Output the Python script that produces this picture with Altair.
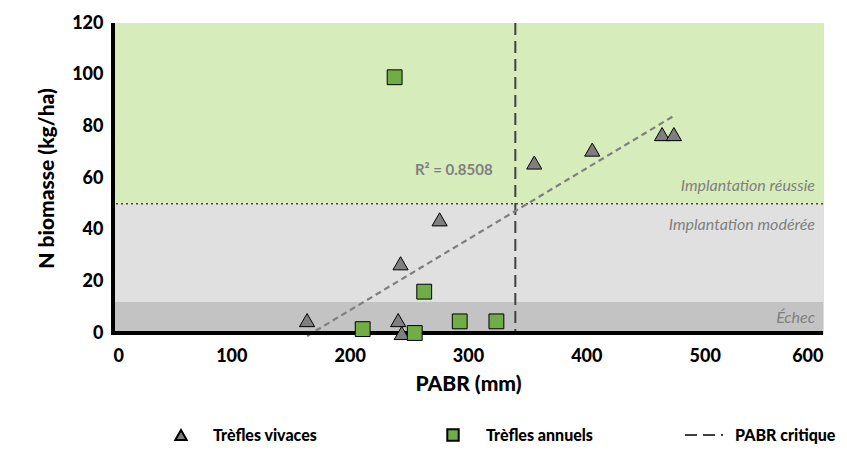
import altair as alt
import pandas as pd
import numpy as np

# Trèfles vivaces
viv_x = [164, 243, 241, 244, 276, 356, 405, 464, 474]
viv_y = [5, 27, 5, 0, 44, 66, 71, 77, 77]
# Trèfles annuels
ann_x = [238, 211, 255, 263, 293, 324]
ann_y = [99, 1.5, 0, 16, 4.5, 4.5]
pabr_critique = 340
bands = [("Échec", 0, 12, "#c3c3c3"), ("Implantation modérée", 12, 50, "#e0e0e0"),
         ("Implantation réussie", 50, 120, "#d6ecbb")]
band_labels = [("Échec", 6), ("Implantation modérée", 42), ("Implantation réussie", 57)]

FONT = "Lato"
W, H = 710, 310

xs = alt.Scale(domain=[0, 600], nice=False)
ys = alt.Scale(domain=[0, 120], nice=False)

band_df = pd.DataFrame(bands, columns=["zone", "y0", "y1", "col"])
bg = alt.Chart(band_df).mark_rect().encode(
    x=alt.value(0), x2=alt.value(W),
    y=alt.Y("y0:Q", scale=ys), y2="y1:Q",
    color=alt.Color("col:N", scale=None),
)
dotted = alt.Chart(pd.DataFrame({"y": [50]})).mark_rule(
    color="#385723", strokeDash=[2, 3], strokeWidth=1.5
).encode(y=alt.Y("y:Q", scale=ys))

lab_df = pd.DataFrame(band_labels, columns=["t", "y"])
labels = alt.Chart(lab_df).mark_text(
    align="right", font=FONT, fontStyle="italic", fontSize=16, color="#7f7f7f"
).encode(x=alt.value(W - 8), y=alt.Y("y:Q", scale=ys), text="t:N")

crit = alt.Chart(pd.DataFrame({"x": [pabr_critique]})).mark_rule(
    color="#404040", strokeDash=[12, 6], strokeWidth=2
).encode(x=alt.X("x:Q", scale=xs))

# linear trendline for perennial clovers
a, b = np.polyfit(viv_x, viv_y, 1)
tx = [min(viv_x), max(viv_x)]
trend_df = pd.DataFrame({"x": tx, "y": [a * v + b for v in tx]})
trend = alt.Chart(trend_df).mark_line(
    color="#7f7f7f", strokeDash=[6, 4], strokeWidth=2.2
).encode(x=alt.X("x:Q", scale=xs), y=alt.Y("y:Q", scale=ys))

r2 = alt.Chart(pd.DataFrame({"x": [288], "y": [63], "t": ["R² = 0.8508"]})).mark_text(
    font=FONT, fontWeight="bold", fontSize=15, color="#7f7f7f"
).encode(x=alt.X("x:Q", scale=xs), y=alt.Y("y:Q", scale=ys), text="t:N")

axis_style = dict(grid=False, ticks=False, domain=False,
                  labelFont=FONT, labelFontSize=18, labelFontWeight=900, labelColor="black",
                  titleFont=FONT, titleFontSize=21, titleFontWeight=900, titleColor="black")

# axis lines on top of the background bands
y_axis_line = alt.Chart(pd.DataFrame({"a": [0]})).mark_rule(
    color="#000000", strokeWidth=4
).encode(x=alt.value(0), y=alt.value(0), y2=alt.value(H))
x_axis_line = alt.Chart(pd.DataFrame({"a": [0]})).mark_rule(
    color="#000000", strokeWidth=4
).encode(x=alt.value(-2), x2=alt.value(W), y=alt.value(H))

viv = alt.Chart(pd.DataFrame({"x": viv_x, "y": viv_y})).mark_point(
    shape="triangle-up", filled=True, fill="#7f7f7f", stroke="black", strokeWidth=1,
    size=230, opacity=1
).encode(
    x=alt.X("x:Q", scale=xs, title="PABR (mm)",
            axis=alt.Axis(values=list(range(0, 601, 100)), labelPadding=14,
                          titlePadding=8, **axis_style)),
    y=alt.Y("y:Q", scale=ys, title="N biomasse (kg/ha)",
            axis=alt.Axis(values=list(range(0, 121, 20)), labelPadding=10,
                          titlePadding=14, **axis_style)),
)
ann = alt.Chart(pd.DataFrame({"x": ann_x, "y": ann_y})).mark_point(
    shape="square", filled=True, fill="#70ad47", stroke="black", strokeWidth=1,
    size=220, opacity=1
).encode(x=alt.X("x:Q", scale=xs), y=alt.Y("y:Q", scale=ys))

# legend below the plot
leg_tri = alt.Chart(pd.DataFrame({"a": [0]})).mark_point(
    shape="triangle-up", filled=True, fill="#7f7f7f", stroke="black", size=130, opacity=1
).encode(x=alt.value(68), y=alt.value(412))
leg_sq = alt.Chart(pd.DataFrame({"a": [0]})).mark_point(
    shape="square", filled=True, fill="#70ad47", stroke="black", size=130, opacity=1
).encode(x=alt.value(340), y=alt.value(412))
leg_line = alt.Chart(pd.DataFrame({"a": [0]})).mark_rule(
    color="#404040", strokeDash=[12, 6], strokeWidth=2
).encode(x=alt.value(572), x2=alt.value(610), y=alt.value(412))
leg_txt = alt.Chart(pd.DataFrame({
    "t": ["Trèfles vivaces", "Trèfles annuels", "PABR critique"],
    "px": [100, 373, 622],
})).mark_text(align="left", font=FONT, fontWeight=900, fontSize=16, color="black").encode(
    x=alt.X("px:Q", scale=None), y=alt.value(413), text="t:N"
)

chart = alt.layer(
    bg, dotted, labels, crit, trend, r2, y_axis_line, x_axis_line, viv, ann,
    leg_tri, leg_sq, leg_line, leg_txt
).properties(
    width=W, height=H, autosize=alt.AutoSizeParams(type="none"),
    padding={"left": 105, "top": 15, "right": 16, "bottom": 120},
).configure_view(stroke=None).configure(background="white")

chart.save("out.html", embed_options={"renderer": "svg", "actions": False})
